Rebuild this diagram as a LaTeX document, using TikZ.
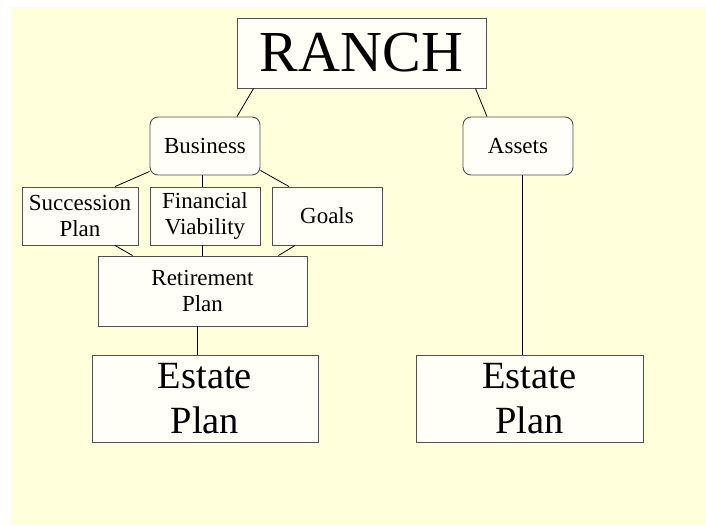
\documentclass[tikz,border=0pt]{standalone}
\usepackage{fontspec}
\setmainfont{Liberation Serif}
\definecolor{ranchback}{HTML}{FFFFDC}
\definecolor{ranchfill}{HTML}{FFFFF7}
\definecolor{ranchedge}{HTML}{505050}

\begin{document}
\begin{tikzpicture}[x=1pt, y=-1pt,
        box/.style={rectangle, draw=ranchedge, fill=ranchfill, line width=0.9pt, inner sep=0pt, align=center, text centered, font=\fontsize{23}{26.5}\selectfont},
        roundbox/.style={box, rounded corners=8pt},
        bigbox/.style={box, font=\fontsize{38.5}{45}\selectfont},
        link/.style={black, line width=0.8pt}]
      % page and background
      \useasboundingbox (0,0) rectangle (706,525);
      \fill[white] (0,0) rectangle (706,525);
      \fill[ranchback] (11,7) rectangle (706,525);

      % top
      \node[box, minimum width=249pt, minimum height=70pt, font=\fontsize{58}{58}\selectfont] (ranch) at (361.5,53) {RANCH};
      \node[roundbox, minimum width=110pt, minimum height=58pt] (business) at (205,146) {Business};
      \node[roundbox, minimum width=110pt, minimum height=58pt] (assets) at (518,146) {Assets};

      % business parts
      \node[box, minimum width=116pt, minimum height=58pt] (succession) at (80,216) {Succession\\Plan};
      \node[box, minimum width=110pt, minimum height=58pt] (viability) at (205,216) {Financial\\Viability};
      \node[box, minimum width=110pt, minimum height=58pt] (goals) at (327,216) {Goals};
      \node[box, minimum width=209pt, minimum height=70pt] (retirement) at (202.5,291) {Retirement\\Plan};

      % estate plans
      \node[bigbox, minimum width=226pt, minimum height=87pt] (estateleft) at (205,398.5) {Estate\\Plan};
      \node[bigbox, minimum width=227pt, minimum height=87pt] (estateright) at (529.5,398.5) {Estate\\Plan};

      \draw[link] ([xshift=17pt]ranch.south west) -- ([xshift=32pt]business.north);
      \draw[link] ([xshift=-11pt]ranch.south east) -- ([xshift=-31pt]assets.north);
      \draw[link] ([yshift=4pt]business.south west) -- ([xshift=35pt]succession.north);
      \draw[link] ([xshift=-3pt]business.south) -- ([xshift=-3pt]viability.north);
      \draw[link] ([yshift=5pt]business.south east) -- ([xshift=-38pt]goals.north);
      \draw[link] ([xshift=35pt]succession.south) -- ([xshift=35pt]retirement.north west);
      \draw[link] ([xshift=-3pt]viability.south) -- ([xshift=-0.5pt]retirement.north);
      \draw[link] ([xshift=-32pt]goals.south) -- ([xshift=-29pt]retirement.north east);
      \draw[link] ([xshift=-5.5pt]retirement.south) -- ([xshift=-8pt]estateleft.north);
      \draw[link] ([xshift=4pt]assets.south) -- ([xshift=-7.5pt]estateright.north);
    \end{tikzpicture}
\end{document}
